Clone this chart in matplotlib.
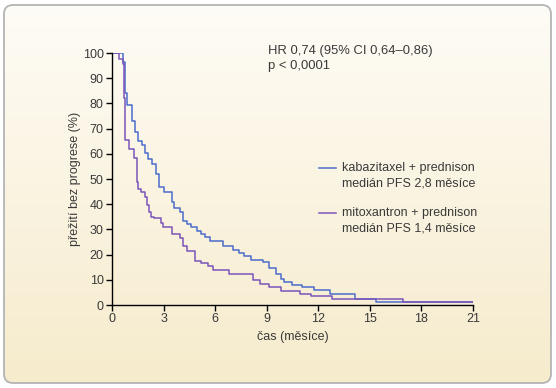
import numpy as np
import matplotlib
import matplotlib.pyplot as plt
from matplotlib.patches import FancyBboxPatch

matplotlib.use("Agg")

# Kaplan-Meier steps (months, % without progression)
kaba_t = [0, 0.63, 0.77, 0.89, 1.18, 1.34, 1.52, 1.76, 1.91, 2.07, 2.31, 2.55, 2.72, 3.0,
          3.47, 3.6, 3.93, 4.11, 4.38, 4.58, 4.93, 5.15, 5.39, 5.68, 6.45, 7.01, 7.36,
          7.7, 8.09, 8.8, 9.14, 9.55, 9.81, 10.01, 10.46, 11.07, 11.74, 12.69, 14.11,
          15.37, 21]
kaba_s = [100, 96.5, 84, 79.5, 73, 68.5, 65, 63.5, 60.5, 58, 56, 52, 47, 45,
          41, 38.5, 37, 33.5, 32, 31, 29.5, 28, 27, 25.5, 23.5, 22, 20.5,
          19.5, 18, 17, 14.5, 12.5, 10.5, 9, 8, 7, 6, 4.5, 2.3,
          1.3, 1.3]

mito_t = [0, 0.43, 0.63, 0.69, 0.75, 0.97, 1.3, 1.44, 1.54, 1.7, 1.91, 2.05, 2.15, 2.25,
          2.45, 2.86, 2.96, 3.47, 3.97, 4.11, 4.38, 4.84, 5.19, 5.6, 5.9, 6.81, 8.18,
          8.59, 9.14, 9.85, 10.93, 11.58, 12.79, 14.11, 16.95, 21]
mito_s = [100, 97.5, 95.5, 82, 65.5, 62, 58.5, 49, 46, 45, 43, 39.5, 37, 35,
          34.5, 32.5, 31, 28, 26.5, 23.5, 21.5, 17.5, 16.5, 15.5, 14, 12.5, 10,
          8.5, 7, 5.5, 4.5, 3.5, 2.5, 2.5, 1.2, 1.2]

x_ticks = [0, 3, 6, 9, 12, 15, 18, 21]
y_ticks = list(range(0, 101, 10))

blue = "#4B6CCB"
purple = "#7B55BA"
grey = "#3a3a3a"

plt.rcParams["font.family"] = ["Liberation Sans", "DejaVu Sans"]

fig = plt.figure(figsize=(5.56, 3.88), dpi=100)
fig.patch.set_facecolor("white")

# background panel with a soft cream gradient
bg = fig.add_axes([0, 0, 1, 1])
bg.set_xlim(0, 556)
bg.set_ylim(0, 388)
bg.axis("off")
grad = np.linspace(0, 1, 256).reshape(-1, 1)
top = np.array([254, 252, 246]) / 255
bot = np.array([246, 235, 204]) / 255
img = top + (bot - top) * grad[..., None]
im = bg.imshow(img, extent=[3, 552, 4, 384], aspect="auto", origin="upper", zorder=0)
frame = FancyBboxPatch((4, 5), 547, 378, boxstyle="round,pad=0,rounding_size=9",
                       facecolor="none", edgecolor="#b4b4b4", linewidth=1.3, zorder=2)
bg.add_patch(frame)
im.set_clip_path(frame)

ax = fig.add_axes([112 / 556, 1 - 305 / 388, 361 / 556, 252 / 388])
ax.patch.set_visible(False)
ax.step(kaba_t, kaba_s, where="post", color=blue, lw=1.1)
ax.step(mito_t, mito_s, where="post", color=purple, lw=1.1)

ax.set_xlim(0, 21)
ax.set_ylim(0, 100)
ax.set_xticks(x_ticks)
ax.set_yticks(y_ticks)
for s in ["top", "right"]:
    ax.spines[s].set_visible(False)
for s in ["left", "bottom"]:
    ax.spines[s].set_linewidth(1.0)
    ax.spines[s].set_color("black")
ax.tick_params(length=4, width=1.0, labelsize=9, labelcolor=grey, pad=2)
ax.set_xlabel("čas (měsíce)", fontsize=9, color=grey, labelpad=4)
ax.set_ylabel("přežití bez progrese (%)", fontsize=9, color=grey, labelpad=1)

ax.text(9.1, 97.9, "HR 0,74 (95% CI 0,64–0,86)\np < 0,0001", fontsize=9.4, color=grey,
        va="center", linespacing=1.3)

leg_x0, leg_x1, txt_x = 12.05, 13.05, 13.4
ax.plot([leg_x0, leg_x1], [54.5, 54.5], color=blue, lw=1.1)
ax.text(txt_x, 51.3, "kabazitaxel + prednison\nmedián PFS 2,8 měsíce", fontsize=9,
        color=grey, va="center", linespacing=1.3)
ax.plot([leg_x0, leg_x1], [36.5, 36.5], color=purple, lw=1.1)
ax.text(txt_x, 33.4, "mitoxantron + prednison\nmedián PFS 1,4 měsíce", fontsize=9,
        color=grey, va="center", linespacing=1.3)

plt.savefig("out.png", dpi=100)
